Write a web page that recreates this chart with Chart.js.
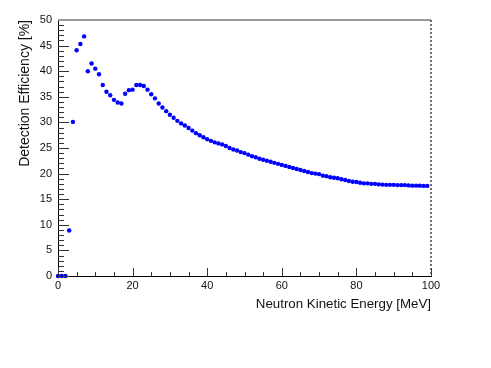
<!DOCTYPE html>
<html>
<head>
<meta charset="utf-8">
<script src="https://cdn.jsdelivr.net/npm/chart.js@4/dist/chart.umd.min.js"></script>
<style>
  html, body { margin: 0; padding: 0; background: #fff; }
  #wrap { width: 491px; height: 368px; position: relative; }
</style>
</head>
<body>
<div id="wrap"><canvas id="effChart"></canvas></div>
<script>
// neutron energy bins [MeV]
const energies = [
  0, 1, 2, 3, 4, 5, 6, 7, 8, 9,
  10, 11, 12, 13, 14, 15, 16, 17, 18, 19,
  20, 21, 22, 23, 24, 25, 26, 27, 28, 29,
  30, 31, 32, 33, 34, 35, 36, 37, 38, 39,
  40, 41, 42, 43, 44, 45, 46, 47, 48, 49,
  50, 51, 52, 53, 54, 55, 56, 57, 58, 59,
  60, 61, 62, 63, 64, 65, 66, 67, 68, 69,
  70, 71, 72, 73, 74, 75, 76, 77, 78, 79,
  80, 81, 82, 83, 84, 85, 86, 87, 88, 89,
  90, 91, 92, 93, 94, 95, 96, 97, 98, 99
];

// detection efficiency [%]
const efficiency = [
  0, 0, 0, 8.9, 30.1, 44.1, 45.3, 46.8, 40.0, 41.5,
  40.5, 39.4, 37.3, 36.0, 35.3, 34.4, 33.9, 33.7, 35.6, 36.3,
  36.4, 37.3, 37.3, 37.1, 36.4, 35.5, 34.7, 33.7, 32.9, 32.2,
  31.5, 30.9, 30.3, 29.8, 29.4, 28.9, 28.4, 27.9, 27.5, 27.1,
  26.7, 26.4, 26.1, 25.9, 25.7, 25.4, 25.0, 24.7, 24.5, 24.2,
  24.0, 23.7, 23.4, 23.2, 22.9, 22.7, 22.5, 22.3, 22.1, 21.9,
  21.7, 21.5, 21.3, 21.1, 20.9, 20.7, 20.5, 20.3, 20.1, 20.0,
  19.9, 19.6, 19.5, 19.3, 19.2, 19.1, 18.9, 18.75, 18.55, 18.4,
  18.35, 18.2, 18.1, 18.1, 18.0, 18.0, 17.9, 17.85, 17.8, 17.8,
  17.8, 17.75, 17.75, 17.75, 17.7, 17.65, 17.65, 17.65, 17.6, 17.6
];

const xMajorTicks = [0, 20, 40, 60, 80, 100];
const yMajorTicks = [0, 5, 10, 15, 20, 25, 30, 35, 40, 45, 50];

const points = energies.map((e, i) => ({ x: e, y: efficiency[i] }));

// ROOT style frame: inward ticks, grey top line, dashed right edge
const rootFrame = {
  id: "rootFrame",
  afterDraw(chart) {
    const { ctx, chartArea: a, scales: { x, y } } = chart;
    ctx.save();
    ctx.lineWidth = 1;
    ctx.strokeStyle = "#333";
    ctx.beginPath();
    for (let v = 0; v <= 100; v += 5) {
      const px = Math.round(x.getPixelForValue(v)) + 0.5;
      const len = v % 20 === 0 ? 8 : 4;
      ctx.moveTo(px, a.bottom);
      ctx.lineTo(px, a.bottom - len);
    }
    for (let v = 0; v <= 50; v += 1) {
      const py = Math.round(y.getPixelForValue(v)) + 0.5;
      const len = v % 5 === 0 ? 11 : 6;
      ctx.moveTo(a.left, py);
      ctx.lineTo(a.left + len, py);
    }
    ctx.stroke();

    ctx.strokeStyle = "#999";
    ctx.lineWidth = 2;
    ctx.beginPath();
    ctx.moveTo(a.left, a.top);
    ctx.lineTo(a.right, a.top);
    ctx.stroke();

    ctx.strokeStyle = "#444";
    ctx.lineWidth = 1.5;
    ctx.setLineDash([2, 2]);
    ctx.beginPath();
    ctx.moveTo(a.right, a.top);
    ctx.lineTo(a.right, a.bottom);
    ctx.stroke();
    ctx.restore();
  }
};

const tickFont = { family: "'Liberation Sans', Arial, sans-serif", size: 11 };

new Chart(document.getElementById("effChart"), {
  type: "scatter",
  data: {
    datasets: [{
      data: points,
      backgroundColor: "#0000ff",
      borderColor: "#0000ff",
      pointRadius: 2.2,
      pointBorderWidth: 0,
      clip: false
    }]
  },
  options: {
    responsive: true,
    maintainAspectRatio: false,
    animation: false,
    layout: { padding: { top: 20, right: 60, left: 0, bottom: 0 } },
    plugins: {
      legend: { display: false },
      tooltip: { enabled: false }
    },
    scales: {
      x: {
        type: "linear",
        min: 0,
        max: 100,
        afterFit(scale) { scale.height = 92; },
        afterBuildTicks(scale) { scale.ticks = xMajorTicks.map(v => ({ value: v })); },
        grid: { display: false, drawTicks: false, tickLength: 0 },
        border: { display: true, color: "#000", width: 1 },
        ticks: { color: "#111", font: tickFont, padding: 3, maxRotation: 0 },
        title: {
          display: true,
          text: "Neutron Kinetic Energy [MeV]",
          align: "end",
          color: "#111",
          font: { family: "'Liberation Sans', Arial, sans-serif", size: 13.3 },
          padding: { top: 0, bottom: 56 }
        }
      },
      y: {
        type: "linear",
        min: 0,
        max: 50,
        afterFit(scale) { scale.width = 58; },
        afterBuildTicks(scale) { scale.ticks = yMajorTicks.map(v => ({ value: v })); },
        grid: { display: false, drawTicks: false, tickLength: 0 },
        border: { display: true, color: "#000", width: 1 },
        ticks: { color: "#111", font: tickFont, padding: 6 },
        title: {
          display: true,
          text: "Detection Efficiency [%]",
          align: "end",
          color: "#111",
          font: { family: "'Liberation Sans', Arial, sans-serif", size: 14 },
          padding: { top: 17, bottom: 0 }
        }
      }
    }
  },
  plugins: [rootFrame]
});
</script>
</body>
</html>
